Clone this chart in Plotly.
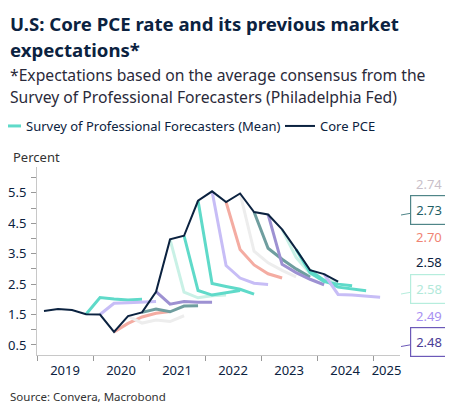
import plotly.graph_objects as go

# ---------------- data ----------------
core_start = "2019Q1"
core_pce = [1.62, 1.68, 1.65, 1.51, 1.50, 0.93, 1.45, 1.57, 2.25, 3.97, 4.09,
            5.24, 5.55, 5.20, 5.48, 4.87, 4.79, 4.30, 3.64, 2.96, 2.83, 2.58]

fc_starts = ["2019Q4", "2020Q1", "2020Q2", "2020Q3", "2020Q4", "2021Q1",
             "2021Q2", "2021Q3", "2021Q4", "2022Q1", "2022Q2", "2022Q3",
             "2022Q4", "2023Q1", "2023Q2", "2023Q3", "2023Q4", "2024Q1"]
fc_values = [
    [1.51, 2.06, 2.01, 1.98, 2.00],
    [1.50, 1.87, 1.89, 1.91, 1.93],
    [0.93, 1.21, 1.42, 1.54, 1.60],
    [1.45, 1.22, 1.32, 1.27, 1.46],
    [1.57, 1.68, 1.59, 1.78, 1.79],
    [2.25, 1.84, 1.93, 1.90, 1.90],
    [3.97, 2.24, 2.05, 2.12, 2.14],
    [4.09, 2.29, 2.14, 2.22, 2.29],
    [5.24, 2.52, 2.42, 2.33, 2.17],
    [5.55, 3.11, 2.70, 2.53, 2.49],
    [5.20, 3.64, 3.13, 2.84, 2.70],
    [5.48, 3.58, 3.20, 2.95, 2.74],
    [4.87, 3.68, 3.32, 3.00, 2.73],
    [4.79, 3.15, 2.88, 2.66, 2.48],
    [4.30, 3.38, 2.85, 2.64, 2.58],
    [3.64, 2.88, 2.58, 2.50, 2.45],
    [2.96, 2.62, 2.40, 2.34, 2.28],
    [2.83, 2.16, 2.14, 2.11, 2.07],
]
TEAL, LAV, SALMON, LGRAY, DTEAL, PURPLE, MINT = (
    "#5fdac9", "#c7bdf6", "#f4aca2", "#ededed", "#6f9e9f", "#9d91d2", "#c9f1e6")
fc_colors = [TEAL, LAV, SALMON, LGRAY, DTEAL, PURPLE, MINT, TEAL, TEAL,
             LAV, SALMON, LGRAY, DTEAL, PURPLE, MINT, TEAL, TEAL, LAV]
NAVY = "#0b2240"

year_ticks = [2019, 2020, 2021, 2022, 2023, 2024, 2025]
year_labels = ["2019", "2020", "2021", "2022", "2023", "2024", "2025"]
year_label_pos = [2019.5, 2020.5, 2021.5, 2022.5, 2023.5, 2024.5, 2025.24]
y_tickvals = [0.5, 1.0, 1.5, 2.0, 2.5, 3.0, 3.5, 4.0, 4.5, 5.0, 5.5, 6.0]
y_ticktext = ["0.5", "", "1.5", "", "2.5", "", "3.5", "", "4.5", "", "5.5", ""]

end_labels = ["2.74", "2.73", "2.70", "2.58", "2.58", "2.49", "2.48"]
end_colors = ["#c9bfc9", "#1f5f66", "#f08474", NAVY, "#b2e9da", "#a890f2", "#4b3d96"]
end_boxed = [None, "#4f8588", None, None, "#b6eddd", None, "#6c59b8"]
end_pos_px = [184, 210, 237, 262, 289, 316, 341.5]


def q2x(q, k=0):
    y, n = int(q[:4]), int(q[5])
    return y + (n - 1) * 0.25 + 0.125 + 0.25 * k


# ---------------- figure ----------------
OFF = 8                      # page body margin of the browser
W, H = 453 - OFF, 417 - OFF
L, R, T, B = 37 - OFF, 453 - 400, 167 - OFF, 417 - 355
pw, ph = W - L - R, H - T - B
YMIN, YMAX = 0.17, 6.35


def fx(sx):
    return (sx - OFF - L) / pw


def fy(sy):
    return (H - B - (sy - OFF)) / ph


def sy2val(sy):
    return YMIN + fy(sy) * (YMAX - YMIN)


fig = go.Figure()
first_teal = True
for q, vals, col in zip(fc_starts, fc_values, fc_colors):
    show = col == TEAL and first_teal
    if show:
        first_teal = False
    fig.add_trace(go.Scatter(
        x=[q2x(q, k) for k in range(len(vals))], y=vals, mode="lines",
        line=dict(color=col, width=3), name="Survey of Professional Forecasters (Mean)",
        legendgroup="spf", showlegend=show, hoverinfo="skip", legend="legend"))

fig.add_trace(go.Scatter(
    x=[q2x(core_start, k) for k in range(len(core_pce))], y=core_pce, mode="lines",
    line=dict(color=NAVY, width=2), name="Core PCE", xaxis="x2", hoverinfo="skip",
    legend="legend2"))

FONT = "Noto Sans"
SUB = "#2a2a3a"
ann = []
ann.append(dict(text="<b>U.S: Core PCE rate and its previous market</b>", x=fx(8),
                y=fy(23), font=dict(size=18.6, color=NAVY)))
ann.append(dict(text="<b>expectations*</b>", x=fx(8),
                y=fy(49), font=dict(size=18.6, color=NAVY)))
ann.append(dict(text="*Expectations based on the average consensus from the", x=fx(8),
                y=fy(75), font=dict(size=15.7, color=SUB)))
ann.append(dict(text="Survey of Professional Forecasters (Philadelphia Fed)", x=fx(8),
                y=fy(97), font=dict(size=15.7, color=SUB)))
ann.append(dict(text="Percent", x=fx(11), y=fy(157),
                font=dict(size=13, color="#333333")))
ann.append(dict(text="Source: Convera, Macrobond", x=fx(8), y=fy(396),
                font=dict(size=11.5, color="#333333")))
for a in ann:
    a.update(xref="paper", yref="paper", xanchor="left", yanchor="middle", showarrow=False)

for txt, col, box, spy in zip(end_labels, end_colors, end_boxed, end_pos_px):
    a = dict(text=txt, xref="paper", yref="y", font=dict(size=13, color=col),
             xanchor="center", yanchor="middle")
    if box:
        a.update(x=fx(401), y=sy2val(spy + 5), showarrow=True, arrowhead=0,
                 arrowwidth=1, arrowcolor=box, ax=28, ay=-5, bordercolor=box,
                 borderwidth=1.2, borderpad=5, bgcolor="white")
    else:
        a.update(x=fx(429), y=sy2val(spy), showarrow=False)
    ann.append(a)

leg_common = dict(orientation="h", xref="paper", yref="paper", xanchor="left",
                  yanchor="middle", font=dict(size=13, color=NAVY), itemwidth=30,
                  bgcolor="rgba(0,0,0,0)")

fig.update_layout(
    width=W, height=H, margin=dict(l=L, r=R, t=T, b=B, autoexpand=False),
    paper_bgcolor="white", plot_bgcolor="white",
    font=dict(family=FONT, color=NAVY),
    showlegend=True,
    legend=dict(x=fx(-14), y=fy(126), **leg_common),
    legend2=dict(x=fx(280), y=fy(126), **leg_common),
    xaxis=dict(range=[2019, 2025.48], tickvals=year_ticks, ticktext=[""] * len(year_ticks),
               ticks="outside", ticklen=5, tickcolor="#999999", showline=True,
               linecolor="#c8c8c8", linewidth=1, showgrid=False, zeroline=False,
               automargin=False),
    xaxis2=dict(range=[2019, 2025.48], overlaying="x", anchor="y", side="bottom",
                tickvals=year_label_pos, ticktext=year_labels, ticks="",
                showline=False, showgrid=False, zeroline=False, automargin=False,
                tickfont=dict(size=13, color=NAVY), ticklabelstandoff=6),
    yaxis=dict(range=[YMIN, YMAX], tickvals=y_tickvals, ticktext=y_ticktext,
               ticks="outside", ticklen=5, tickcolor="#999999", showline=True,
               linecolor="#c8c8c8", linewidth=1, showgrid=False, zeroline=False,
               automargin=False,
               tickfont=dict(size=13, color=NAVY), ticklabelstandoff=2),
    annotations=ann,
)

fig.write_html("out.html")
